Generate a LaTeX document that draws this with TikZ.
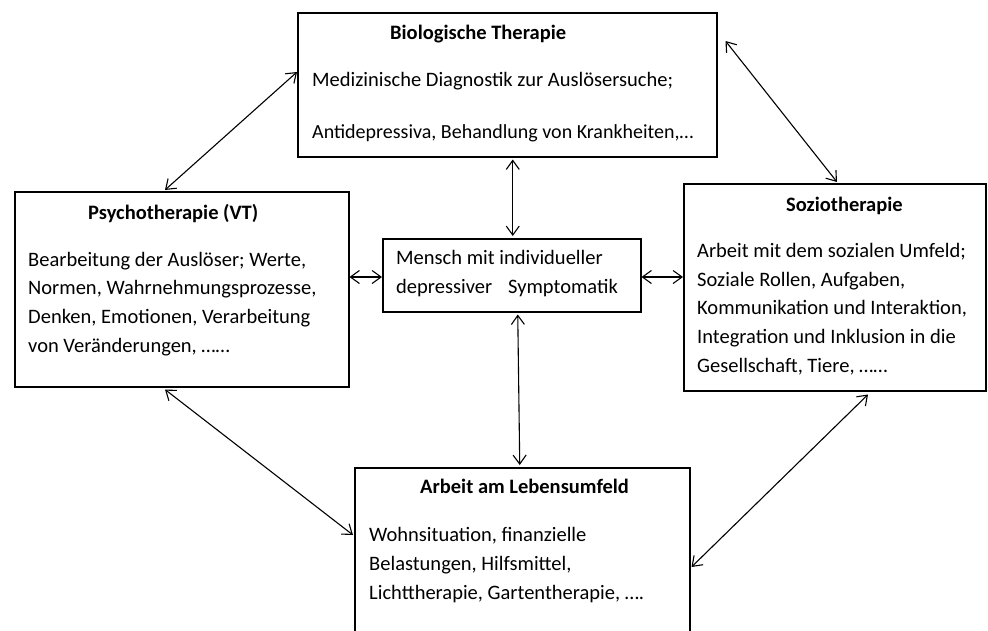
\documentclass[tikz,border=0pt]{standalone}
\usepackage{fontspec}
\setmainfont{Carlito}
\usetikzlibrary{arrows.meta,calc}
\begin{document}
\begin{tikzpicture}[x=1pt,y=-1pt,
  box/.style={draw,line width=1.5pt,inner sep=0pt,anchor=north west},
  txt/.style={anchor=base west,inner sep=0pt,font=\fontsize{20.5}{24}\selectfont},
  ttl/.style={anchor=base west,inner sep=0pt,font=\fontsize{20.5}{24}\selectfont\bfseries},
  barb/.tip={Straight Barb[length=9pt,width=13pt]},
  link/.style={line width=1.1pt,barb-barb}]
\useasboundingbox (0,0) rectangle (988,630);
\fill[white] (0,0) rectangle (988,630);

% boxes
\node[box,minimum width=419pt,minimum height=144pt] (bio) at (297,12) {};
\node[box,minimum width=334pt,minimum height=195pt] (psy) at (14,191) {};
\node[box,minimum width=258pt,minimum height=73pt] (ctr) at (382,238) {};
\node[box,minimum width=302pt,minimum height=207pt] (soz) at (683,183) {};
\node[box,minimum width=335pt,minimum height=185pt] (arb) at (354,467) {};

% texts
\node[ttl] (bioT) at (390,39) {Biologische Therapie};
\node[txt] (bio1) at (312,86) {Medizinische Diagnostik zur Auslösersuche;};
\node[txt,font=\fontsize{20}{24}\selectfont] (bio2) at (312,138) {Antidepressiva, Behandlung von Krankheiten,…};

\node[ttl] (psyT) at (88,219) {Psychotherapie (VT)};
\node[txt] (psy1) at (28,266) {Bearbeitung der Auslöser; Werte,};
\node[txt] (psy2) at (28,294) {Normen, Wahrnehmungsprozesse,};
\node[txt] (psy3) at (28,323) {Denken, Emotionen, Verarbeitung};
\node[txt] (psy4) at (28,352) {von Veränderungen, ……};

\node[txt] (ctr1) at (396,264) {Mensch mit individueller};
\node[txt] (ctr2) at (396,293) {depressiver\hspace{0.55em} Symptomatik};

\node[ttl] (sozT) at (786,211) {Soziotherapie};
\node[txt] (soz1) at (697,257) {Arbeit mit dem sozialen Umfeld;};
\node[txt] (soz2) at (697,286) {Soziale Rollen, Aufgaben,};
\node[txt] (soz3) at (697,314) {Kommunikation und Interaktion,};
\node[txt] (soz4) at (697,343) {Integration und Inklusion in die};
\node[txt] (soz5) at (697,372) {Gesellschaft, Tiere, ……};

\node[ttl] (arbT) at (420,493) {Arbeit am Lebensumfeld};
\node[txt] (arb1) at (369,541) {Wohnsituation, finanzielle};
\node[txt] (arb2) at (369,570) {Belastungen, Hilfsmittel,};
\node[txt] (arb3) at (369,599) {Lichttherapie, Gartentherapie, ….};

% connectors
\draw[link] ($(bio.north west)+(0,60)$) -- ($(psy.north west)+(151,-1)$);
\draw[link] ($(bio.north east)+(8,29)$) -- ($(soz.north west)+(154,-1)$);
\draw[link] ($(bio.south)+(5.5,2)$) -- ($(ctr.north)+(1,-2)$);
\draw[link] ($(psy.north east)+(0,86)$) -- ($(ctr.north west)+(0,39)$);
\draw[link] ($(ctr.north east)+(0,39)$) -- ($(soz.north west)+(0,94)$);
\draw[link] ($(ctr.south)+(6,2)$) -- ($(arb.north)+(-2.5,-2)$);
\draw[link] ($(psy.south west)+(151,2)$) -- ($(arb.north west)+(-1,68)$);
\draw[link] ($(soz.south west)+(185,3)$) -- ($(arb.north east)+(1,100)$);
\end{tikzpicture}
\end{document}
